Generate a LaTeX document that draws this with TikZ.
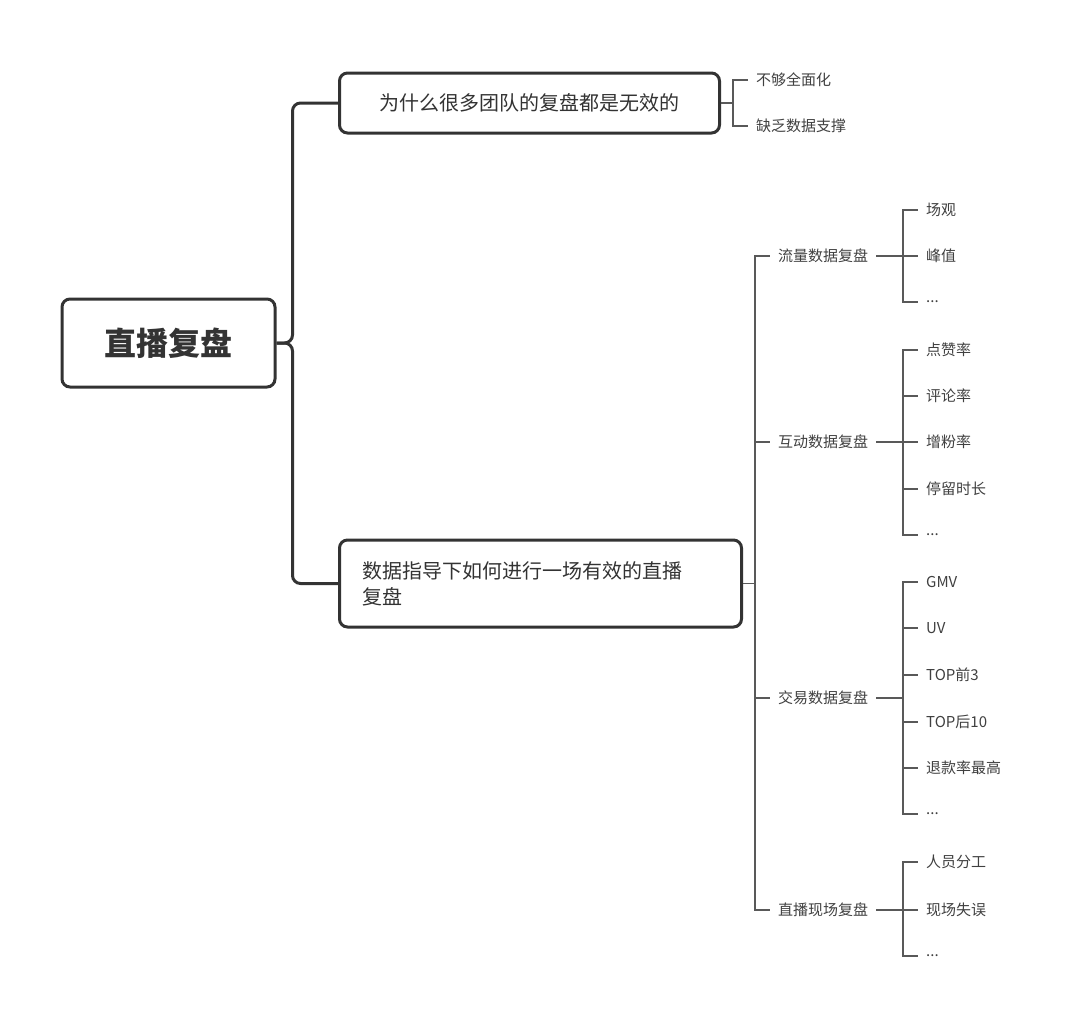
\documentclass[tikz,border=0pt]{standalone}
\usepackage{fontspec}
\setmainfont{Noto Sans CJK SC}
\newcommand\myell{...}
\begin{document}
\begin{tikzpicture}[x=1pt,y=-1pt,
  thick line/.style={draw=black!80,line width=3pt},
  thin line/.style={draw=black!65,line width=1.3pt},
  box/.style={thick line,rounded corners=8pt,fill=white,text=black!80,font=\fontsize{20}{26}\selectfont,align=left},
  leaf/.style={anchor=west,inner xsep=8pt,inner ysep=2pt,text=black!75,font=\fontsize{15}{18}\selectfont}]
\useasboundingbox (0,0) rectangle (1080,1034);
\node[box,minimum width=213pt,minimum height=88pt,font=\fontsize{32}{36}\selectfont\bfseries] (root) at (168.5,343) {直播复盘};
\node[box,minimum width=380pt,minimum height=60pt,anchor=west,inner xsep=23pt] (A) at (338,103) {为什么很多团队的复盘都是无效的};
\node[box,minimum width=402pt,minimum height=87pt,anchor=west,inner xsep=23pt,text width=356pt] (B) at (338,583.5) {数据指导下如何进行一场有效的直播\\复盘};
\draw[thick line,rounded corners=8pt] (root.east) -- ++(16,0) |- (A.west);
\draw[thick line,rounded corners=8pt] (root.east) -- ++(16,0) |- (B.west);
% A children
\node[leaf] (a1) at (748,80) {不够全面化};
\node[leaf] (a2) at (748,126) {缺乏数据支撑};
\foreach \c in {a1,a2} \draw[thin line] (A.east) -- (733,103) |- (\c.west);
% B children
\node[leaf] (b1) at (770,256) {流量数据复盘};
\node[leaf] (b2) at (770,442) {互动数据复盘};
\node[leaf] (b3) at (770,698) {交易数据复盘};
\node[leaf] (b4) at (770,910) {直播现场复盘};
\foreach \c in {b1,b2,b3,b4} \draw[thin line] (B.east) -- (755,583.5) |- (\c.west);
% leaves
\foreach \n/\p/\y/\t in {c1/b1/210/场观,c2/b1/256/峰值,c3/b1/302/\myell,
  d1/b2/350/点赞率,d2/b2/396/评论率,d3/b2/442/增粉率,d4/b2/489/停留时长,d5/b2/535/\myell,
  e1/b3/582/GMV,e2/b3/628/UV,e3/b3/675/TOP前3,e4/b3/722/TOP后10,e5/b3/768/退款率最高,e6/b3/814/\myell,
  f1/b4/862/人员分工,f2/b4/910/现场失误,f3/b4/956/\myell}{
  \node[leaf] (\n) at (918,\y) {\t};
  \draw[thin line] (\p.east) -- (903,0 |- \p.east) |- (\n.west);
}
\end{tikzpicture}
\end{document}
